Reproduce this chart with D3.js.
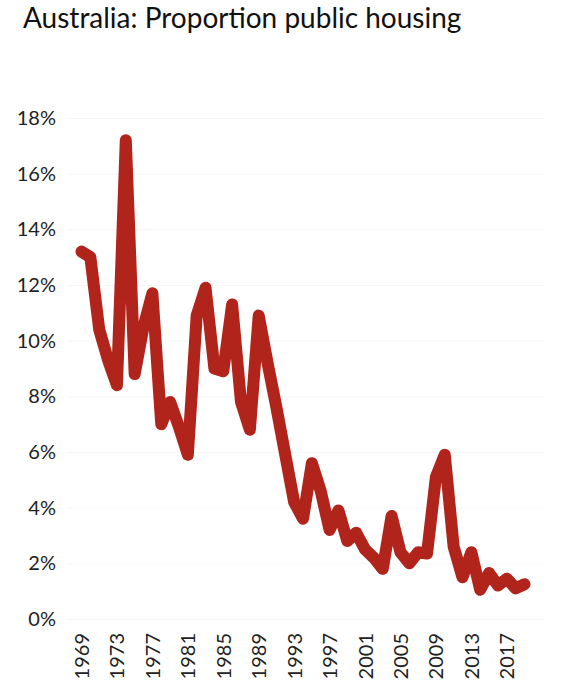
<!DOCTYPE html>
<html>
<head>
<meta charset="utf-8">
<script src="https://cdn.jsdelivr.net/npm/d3@7"></script>
<style>
  body { margin: 0; background: #fff; }
  svg { display: block; font-family: Lato, "Noto Sans", sans-serif; }
</style>
</head>
<body>
<div class="chart"></div>
<script>
// years and share of public housing (%)
const years = d3.range(1969, 2020)
const share = [
  13.2, 13.0, 10.4, 9.3, 8.4, 17.2, 8.8, 10.5, 11.7, 7.0,
  7.8, 6.9, 5.9, 10.9, 11.9, 9.0, 8.9, 11.3, 7.8, 6.8,
  10.9, 9.2, 7.6, 5.9, 4.2, 3.6, 5.6, 4.6, 3.2, 3.9,
  2.8, 3.1, 2.5, 2.2, 1.8, 3.7, 2.4, 2.0, 2.4, 2.35,
  5.1, 5.9, 2.6, 1.5, 2.4, 1.05, 1.65, 1.2, 1.45, 1.1,
  1.25
]
const yTicks = [0, 2, 4, 6, 8, 10, 12, 14, 16, 18]
const xTicks = d3.range(1969, 2020, 4)

const data = years.map((yr, i) => ({year: yr, value: share[i]}))

const width = 574
const height = 690

let x = d3.scaleLinear()
  .domain([1969, 2019])
  .range([81.5, 524.5])

let y = d3.scaleLinear()
  .domain([0, 18])
  .range([619, 118])

const svg = d3.select(".chart").append("svg")
  .attr("width", width)
  .attr("height", height)

svg.append("text")
  .attr("x", 23)
  .attr("y", 28)
  .attr("font-size", 28)
  .attr("fill", "#111")
  .text("Australia: Proportion public housing")

// faint gridlines
svg.append("g")
  .attr("stroke", "#f6f6f6")
  .attr("stroke-width", 1)
  .selectAll("line")
  .data(yTicks)
  .join("line")
    .attr("x1", 68)
    .attr("x2", 545)
    .attr("y1", d => y(d) + 0.5)
    .attr("y2", d => y(d) + 0.5)

let yAxis = g => g
  .attr("transform", "translate(56,0)")
  .call(d3.axisLeft(y).tickValues(yTicks).tickSize(0).tickPadding(0).tickFormat(d => d + "%"))
  .call(g => g.select(".domain").remove())
  .call(g => g.selectAll("text")
    .attr("font-size", 20)
    .attr("font-family", "Lato, 'Noto Sans', sans-serif")
    .attr("fill", "#222"))

// rotated labels: each tick group is translated, so rotate inside it
let xAxis = g => g
  .attr("transform", "translate(0,633)")
  .call(d3.axisBottom(x).tickValues(xTicks).tickSize(0).tickFormat(d3.format("d")))
  .call(g => g.select(".domain").remove())
  .call(g => g.selectAll("text")
    .attr("font-size", 20)
    .attr("font-family", "Lato, 'Noto Sans', sans-serif")
    .attr("fill", "#222")
    .attr("text-anchor", "end")
    .attr("transform", "rotate(-90)")
    .attr("x", 0)
    .attr("y", 0)
    .attr("dy", "0.35em"))

svg.append("g").call(yAxis)
svg.append("g").call(xAxis)

const line = d3.line()
  .x(d => x(d.year))
  .y(d => y(d.value))

svg.append("path")
  .datum(data)
  .attr("fill", "none")
  .attr("stroke", "#b1241b")
  .attr("stroke-width", 12)
  .attr("stroke-linejoin", "round")
  .attr("stroke-linecap", "round")
  .attr("d", line)
</script>
</body>
</html>
